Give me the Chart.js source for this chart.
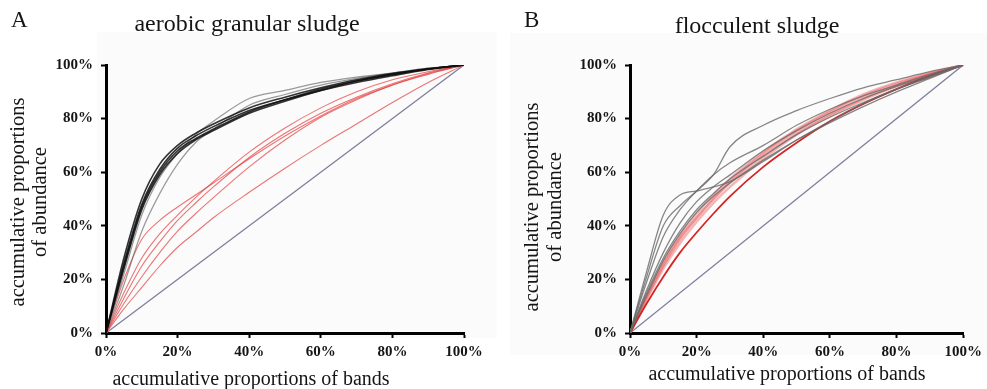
<!DOCTYPE html>
<html>
<head>
<meta charset="utf-8">
<script src="https://cdn.jsdelivr.net/npm/chart.js@4.4.0/dist/chart.umd.min.js"></script>
<style>
  html, body { margin: 0; padding: 0; background: #fff; }
  #wrap { position: relative; width: 987px; height: 389px; overflow: hidden; }
  canvas { position: absolute; top: 0; }
</style>
</head>
<body>
<div id="wrap">
  <canvas id="chartA" width="497" height="389" style="left:0px"></canvas>
  <canvas id="chartB" width="490" height="389" style="left:497px"></canvas>
</div>
<script>
// accumulative proportion of bands (%), shared by every curve
const bandPct = [0, 5, 10, 15, 20, 25, 30, 40, 50, 60, 70, 80, 90, 100];
const axisTicks = ['0%', '20%', '40%', '60%', '80%', '100%'];
const equalityX = [0, 100];
const equalityY = [0, 100];

// A - aerobic granular sludge (accumulative proportion of abundance, %)
const granularBlack = [
  [0, 26, 48, 61, 69, 73.5, 77, 83, 87, 90.5, 93.5, 96, 98.3, 100],
  [0, 28, 50, 63, 70, 74.5, 78, 84, 88, 91.5, 94.5, 96.8, 98.6, 100],
  [0, 24, 46, 59, 67, 72, 75.5, 82, 86.5, 90.5, 94, 96.5, 98.5, 100],
  [0, 25, 47, 60, 68, 72.5, 76, 82.5, 87, 91, 94, 96.5, 98.5, 100]
];
const granularGrey = [
  [0, 18, 38, 52, 63, 71, 76, 85, 89, 92.5, 95, 97, 98.8, 100],
  [0, 22, 44, 58, 67, 74, 79, 87.5, 90.5, 93.5, 95.5, 97, 98.8, 100]
];
const granularRed = [
  [0, 20, 35, 42, 47, 51.5, 56, 65, 73.5, 81, 87.5, 92.5, 96.8, 100],
  [0, 15, 28, 37, 44, 50.5, 56.5, 67.5, 76.5, 84, 90, 94.5, 97.5, 100],
  [0, 13, 25, 34, 42, 48.5, 54.5, 65.5, 74.5, 82, 88, 93, 97, 100],
  [0, 11, 21, 30, 38, 44.5, 50.5, 62, 72, 80.5, 87, 92.5, 96.5, 100],
  [0, 9, 17, 25, 32, 37.5, 43, 52.5, 61.5, 70, 78, 86, 93.5, 100]
];

// B - flocculent sludge
const flocGrey = [
  [0, 23, 44, 51.5, 53, 54.5, 56.5, 64, 72, 79, 85.5, 91, 95.5, 100],
  [0, 21, 40, 47.5, 53, 59, 69.5, 77.5, 83, 87.5, 91.5, 94.5, 97.5, 100],
  [0, 19, 36, 46, 53, 59, 63.5, 70, 77.5, 83.5, 88.5, 92.5, 96.5, 100],
  [0, 16, 30, 41, 49, 54.5, 59, 68, 75.5, 82, 87.5, 92, 96, 100],
  [0, 15, 28, 38, 46, 52, 57.5, 66, 74, 80.5, 86, 91, 95.5, 100],
  [0, 14, 27, 37, 45, 51, 56, 64.5, 72, 78.5, 84.5, 90, 95, 100]
];
const flocRed = [
  [0, 13, 25, 35, 43, 50, 56, 66, 74.5, 81.5, 87.5, 92.5, 96.5, 100],
  [0, 14, 26.5, 36.5, 44.5, 51.5, 57.5, 67.5, 76, 83, 89, 93.5, 97, 100],
  [0, 12.5, 24, 33.5, 41.5, 48.5, 54.5, 65, 74, 81, 87, 92, 96.2, 100],
  [0, 13.5, 25.5, 35.5, 43, 50, 56.5, 67, 75.5, 82.5, 88.5, 93, 96.8, 100]
];
const flocDeepRed = [0, 11, 21, 30, 37.5, 44.5, 51, 62, 71, 79, 85.5, 91, 96, 100];

function curve(values, color, width) {
  return {
    data: bandPct.map((x, i) => ({ x: x, y: values[i] })),
    borderColor: color,
    borderWidth: width,
    pointRadius: 0,
    fill: false,
    cubicInterpolationMode: 'monotone'
  };
}

function equalityLine() {
  return {
    data: equalityX.map((x, i) => ({ x: x, y: equalityY[i] })),
    borderColor: '#7d7d9e',
    borderWidth: 1.3,
    pointRadius: 0,
    fill: false,
    tension: 0
  };
}

const serif = '"Liberation Serif", "Times New Roman", serif';
const tickFont = { family: serif, size: 15, weight: 'bold' };

function axis(isY, size) {
  return {
    type: 'linear',
    min: 0,
    max: 100,
    afterFit: function (s) {
      if (isY) s.width = size; else s.height = size;
    },
    border: { display: true, color: '#000', width: 3 },
    grid: { display: true, drawOnChartArea: false, drawTicks: true, tickLength: 5, tickWidth: 2, tickColor: '#000' },
    ticks: {
      stepSize: 20,
      padding: isY ? 8 : 5,
      color: '#151515',
      font: tickFont,
      maxRotation: 0,
      autoSkip: false,
      callback: v => axisTicks[v / 20]
    }
  };
}

// panel letters, titles and two-line axis titles
const panelText = {
  id: 'panelText',
  beforeDraw(chart, args, o) {
    const ctx = chart.ctx;
    ctx.save();
    ctx.fillStyle = '#fbfbfb';
    ctx.fillRect(o.bg[0], o.bg[1], o.bg[2], o.bg[3]);
    ctx.restore();
  },
  afterDraw(chart, args, o) {
    const ctx = chart.ctx;
    o.labels.forEach(l => {
      ctx.save();
      ctx.font = l.font;
      ctx.fillStyle = '#151515';
      ctx.textAlign = l.align || 'center';
      ctx.textBaseline = 'middle';
      ctx.translate(l.x, l.y);
      if (l.rotate) ctx.rotate(-Math.PI / 2);
      ctx.fillText(l.text, 0, 0);
      ctx.restore();
    });
  }
};

function makeChart(id, datasets, yWidth, rightPad, texts) {
  return new Chart(document.getElementById(id), {
    type: 'line',
    data: { datasets: datasets },
    options: {
      responsive: false,
      animation: false,
      devicePixelRatio: 1,
      layout: { padding: { left: 0, top: 65, right: rightPad, bottom: 0 } },
      scales: { x: axis(false, 56), y: axis(true, yWidth) },
      plugins: { legend: { display: false }, tooltip: { enabled: false }, panelText: texts }
    },
    plugins: [panelText]
  });
}

const setsA = []
  .concat(granularBlack.map(v => curve(v, 'rgba(15,15,15,0.85)', 1.6)))
  .concat(granularGrey.map(v => curve(v, 'rgba(100,100,100,0.65)', 1.2)))
  .concat(granularRed.map(v => curve(v, 'rgba(228,60,60,0.7)', 1.1)))
  .concat([equalityLine()]);

const setsB = []
  .concat(flocGrey.map(v => curve(v, 'rgba(105,105,105,0.8)', 1.3)))
  .concat([curve(flocDeepRed, 'rgba(210,25,25,0.95)', 1.8)])
  .concat(flocRed.map(v => curve(v, 'rgba(235,95,95,0.45)', 2.5)))
  .concat([equalityLine()]);

makeChart('chartA', setsA, 106, 33, {
  bg: [97, 32, 400, 306],
  labels: [
    { text: 'A', x: 11, y: 21, font: '23px ' + serif, align: 'left' },
    { text: 'aerobic granular sludge', x: 247, y: 25, font: '24px ' + serif },
    { text: 'accumulative proportions', x: 19, y: 202, font: '20.5px ' + serif, rotate: true },
    { text: 'of abundance', x: 41, y: 202, font: '20.5px ' + serif, rotate: true },
    { text: 'accumulative proportions of bands', x: 251, y: 380, font: '20px ' + serif }
  ]
});

makeChart('chartB', setsB, 133, 19, {
  bg: [13, 33, 477, 322],
  labels: [
    { text: 'B', x: 27, y: 21, font: '23px ' + serif, align: 'left' },
    { text: 'flocculent sludge', x: 260, y: 27, font: '24px ' + serif },
    { text: 'accumulative proportions', x: 36, y: 207, font: '20.5px ' + serif, rotate: true },
    { text: 'of abundance', x: 59, y: 207, font: '20.5px ' + serif, rotate: true },
    { text: 'accumulative proportions of bands', x: 290, y: 375, font: '20px ' + serif }
  ]
});
</script>
</body>
</html>
